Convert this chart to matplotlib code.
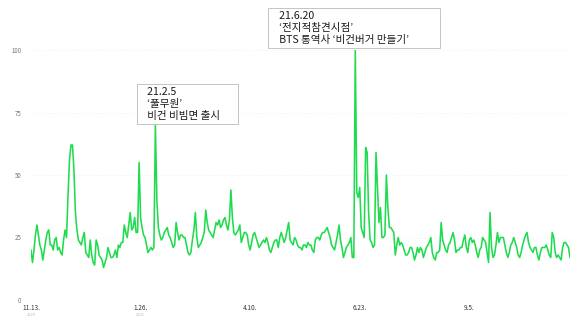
import numpy as np
import pandas as pd
import matplotlib
matplotlib.use("Agg")
import matplotlib.pyplot as plt

plt.rcParams['font.family'] = ['Noto Sans CJK KR', 'DejaVu Sans']

# daily search interest, starting 2020-11-13
start_date = "2020-11-13"
interest = [
    20, 15, 20, 26, 30, 26, 22, 20, 16, 20,
    24, 27, 28, 22, 22, 20, 24, 25, 20, 21,
    19, 18, 24, 28, 25, 42, 56, 62, 62, 52,
    35, 28, 24, 23, 22, 25, 27, 19, 18, 17,
    24, 18, 15, 14, 24, 22, 18, 17, 16, 13,
    15, 17, 21, 19, 17, 17, 18, 20, 17, 22,
    21, 23, 23, 30, 27, 25, 30, 35, 28, 29,
    33, 27, 27, 55, 33, 29, 26, 25, 22, 19,
    20, 21, 20, 21, 70, 40, 29, 26, 24, 25,
    27, 28, 29, 26, 25, 23, 21, 22, 31, 27,
    24, 26, 26, 25, 25, 22, 19, 18, 19, 24,
    28, 35, 25, 21, 22, 23, 25, 27, 36, 31,
    28, 27, 26, 25, 28, 31, 30, 32, 29, 30,
    32, 33, 30, 28, 32, 44, 33, 27, 26, 27,
    28, 30, 23, 25, 27, 27, 26, 22, 20, 23,
    26, 27, 25, 23, 21, 22, 23, 24, 23, 25,
    23, 20, 19, 21, 23, 24, 24, 21, 25, 27,
    25, 23, 25, 28, 31, 24, 23, 22, 25, 24,
    22, 21, 21, 20, 22, 22, 21, 23, 22, 22,
    20, 19, 24, 25, 25, 24, 26, 27, 27, 28,
    29, 27, 25, 22, 21, 20, 23, 26, 30, 24,
    21, 17, 19, 21, 22, 23, 25, 17, 17, 100,
    43, 41, 45, 29, 27, 25, 61, 59, 35, 24,
    23, 21, 22, 59, 45, 31, 37, 25, 25, 26,
    50, 37, 29, 29, 28, 27, 18, 22, 25, 22,
    23, 22, 20, 18, 18, 19, 21, 21, 19, 16,
    18, 21, 19, 21, 20, 17, 19, 21, 22, 23,
    25, 19, 17, 16, 19, 19, 20, 31, 24, 22,
    20, 19, 22, 23, 25, 27, 24, 19, 20, 20,
    21, 21, 24, 26, 21, 19, 24, 25, 23, 24,
    22, 19, 17, 20, 21, 25, 24, 23, 19, 15,
    35, 21, 17, 18, 22, 27, 23, 25, 25, 25,
    22, 19, 17, 19, 22, 23, 25, 23, 21, 18,
    17, 19, 22, 24, 26, 27, 23, 21, 20, 19,
    21, 21, 18, 16, 19, 21, 21, 21, 22, 20,
    18, 17, 27, 25, 19, 17, 18, 17, 16, 21,
    23, 23, 22, 21, 17,
]

tick_dates = ["2020-11-13", "2021-01-26", "2021-04-10", "2021-06-23", "2021-09-05"]
tick_labels = ["11.13.", "1.26.", "4.10.", "6.23.", "9.5."]
year_labels = {"2020-11-13": "2020", "2021-01-26": "2021"}
y_ticks = [0, 25, 50, 75, 100]

# (date, note lines, offset of the text from the peak in points, extra width in spaces)
events = [
    ("2021-02-05", ["21.2.5", "\u2018풀무원\u2019", "비건 비빔면 출시"], (-10.9, 3.0), 6),
    ("2021-06-20", ["21.6.20", "\u2018전지적참견시점\u2019", "BTS 통역사 \u2018비건버거 만들기\u2019"], (-60.3, 3.7), 12),
]

dates = pd.date_range(start_date, periods=len(interest), freq="D")
series = pd.Series(interest, index=dates)

fig = plt.figure(figsize=(5.73, 3.16), dpi=100)
ax = fig.add_axes([31 / 573, 16 / 316, 539 / 573, 250 / 316])

ax.plot(series.index, series.values, color="#1fdc4f", lw=1.15)

ax.set_xlim(dates[0], dates[-1])
ax.set_ylim(0, 100)

# faint horizontal guides
for y in y_ticks[1:]:
    ax.axhline(y, color="#efefef", lw=0.5, ls=":", zorder=0)

ax.set_yticks(y_ticks)
ax.set_yticklabels([str(v) for v in y_ticks], fontsize=4.4, color="#777777")
ax.set_xticks(pd.to_datetime(tick_dates))
ax.set_xticklabels(tick_labels, fontsize=4.6, color="#333333")
ax.tick_params(axis="both", length=0)
ax.tick_params(axis="y", pad=7)
ax.tick_params(axis="x", pad=3)

for d, yr in year_labels.items():
    ax.annotate(yr, xy=(pd.Timestamp(d), 0), xytext=(0, -10.5), textcoords="offset points",
                ha="center", va="center", fontsize=2.8, color="#bbbbbb", annotation_clip=False)

for s in ax.spines.values():
    s.set_visible(False)

# event boxes sitting on top of each peak
for d, lines, offset, extra in events:
    ts = pd.Timestamp(d)
    longest = max(len(l) for l in lines)
    body = []
    for l in lines:
        # pad the left a little, and widen the box on the right
        if len(l) == longest:
            l = l + " " * extra
        body.append("   " + l)
    ax.annotate("\n".join(body), xy=(ts, series[ts]), xytext=offset, textcoords="offset points",
                ha="left", va="bottom", fontsize=7.6, color="#1a1a1a", linespacing=1.25,
                annotation_clip=False,
                bbox=dict(boxstyle="square,pad=0.3", fc="white", ec="#c4c4c4", lw=0.7))

fig.savefig("out.png", dpi=100)
